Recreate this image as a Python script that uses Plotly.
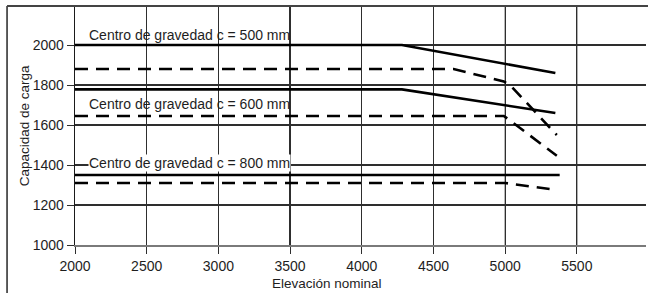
import plotly.graph_objects as go

# ---- data ----
x_500_solid = [2000, 4280, 5350]
y_500_solid = [2000, 2000, 1860]
x_500_dash = [2000, 4640, 4990, 5040, 5360]
y_500_dash = [1880, 1880, 1818, 1795, 1550]

x_600_solid = [2000, 4280, 5350]
y_600_solid = [1778, 1778, 1660]
x_600_dash = [2000, 4990, 5030, 5360]
y_600_dash = [1645, 1645, 1625, 1446]

x_800_solid = [2000, 5380]
y_800_solid = [1350, 1350]
x_800_dash = [2000, 5000, 5360]
y_800_dash = [1310, 1310, 1275]

x_ticks = [2000, 2500, 3000, 3500, 4000, 4500, 5000, 5500]
y_ticks = [1000, 1200, 1400, 1600, 1800, 2000]
gray_x_grid = [5000, 5500]
gray_y_grid = [1600, 1800]

labels = ["Centro de gravedad c = 500 mm",
          "Centro de gravedad c = 600 mm",
          "Centro de gravedad c = 800 mm"]
label_y = [2050, 1705, 1410]

FONT = "Liberation Sans"
TXT = "#1e1e1e"

fig = go.Figure()
for xs, ys, dash in [
    (x_500_solid, y_500_solid, "solid"),
    (x_500_dash, y_500_dash, "13px,8px"),
    (x_600_solid, y_600_solid, "solid"),
    (x_600_dash, y_600_dash, "13px,8px"),
    (x_800_solid, y_800_solid, "solid"),
    (x_800_dash, y_800_dash, "13px,8px"),
]:
    fig.add_trace(go.Scatter(x=xs, y=ys, mode="lines",
                             line=dict(color="black", width=2.6, dash=dash),
                             hoverinfo="skip", showlegend=False))

shapes = []
for gx in gray_x_grid:
    shapes.append(dict(type="line", xref="x", yref="paper", x0=gx, x1=gx,
                       y0=0, y1=1, layer="between",
                       line=dict(color="#8a8a8a", width=1.6)))
for gy in gray_y_grid:
    shapes.append(dict(type="line", xref="paper", yref="y", x0=0, x1=1,
                       y0=gy, y1=gy, layer="between",
                       line=dict(color="#8a8a8a", width=1.4)))
# outer frame: left edge and top edge
shapes.append(dict(type="line", xref="paper", yref="paper", x0=-0.119, x1=-0.119,
                   y0=1.0, y1=-0.21, line=dict(color="#333", width=1.6)))
shapes.append(dict(type="line", xref="paper", yref="paper", x0=-0.119, x1=1.01,
                   y0=1.0, y1=1.0, line=dict(color="#444", width=2)))

annotations = []
for i, (t, yy) in enumerate(zip(labels, label_y)):
    annotations.append(dict(x=2090, y=yy, xref="x", yref="y", text=t,
                            showarrow=False, xanchor="left", yanchor="middle",
                            font=dict(family=FONT, size=14, color=TXT),
                            bgcolor="white" if i == 2 else None, borderpad=0))
annotations.append(dict(x=3760, y=-0.159, xref="x", yref="paper",
                        text="Elevación nominal", showarrow=False,
                        xanchor="center", yanchor="middle",
                        font=dict(family=FONT, size=13.5, color=TXT)))
annotations.append(dict(x=-0.088, y=0.5, xref="paper", yref="paper",
                        text="Capacidad de carga", showarrow=False, textangle=-90,
                        xanchor="center", yanchor="middle",
                        font=dict(family=FONT, size=13.5, color=TXT)))

fig.update_layout(
    width=648, height=293,
    margin=dict(l=75, r=2, t=6, b=48),
    plot_bgcolor="white", paper_bgcolor="white",
    font=dict(family=FONT, size=14, color=TXT),
    shapes=shapes, annotations=annotations,
    xaxis=dict(range=[2000, 5982], tickvals=x_ticks, showgrid=True,
               gridcolor="#2e2e2e", gridwidth=1.2, ticks="outside", ticklen=7,
               tickcolor="#2e2e2e", showline=True, linecolor="#7a7a7a",
               linewidth=2, zeroline=False, tickfont=dict(size=14)),
    yaxis=dict(range=[1000, 2195], tickvals=y_ticks, showgrid=True,
               gridcolor="#2e2e2e", gridwidth=1.2, ticks="outside", ticklen=7,
               tickcolor="#2e2e2e", showline=True, linecolor="#1a1a1a",
               linewidth=1.4, zeroline=False, tickfont=dict(size=14)),
)

fig.write_html("out.html",
               config={"displayModeBar": False, "staticPlot": True},
               post_script="document.body.style.margin='0';"
                           "document.body.style.overflow='hidden';")
